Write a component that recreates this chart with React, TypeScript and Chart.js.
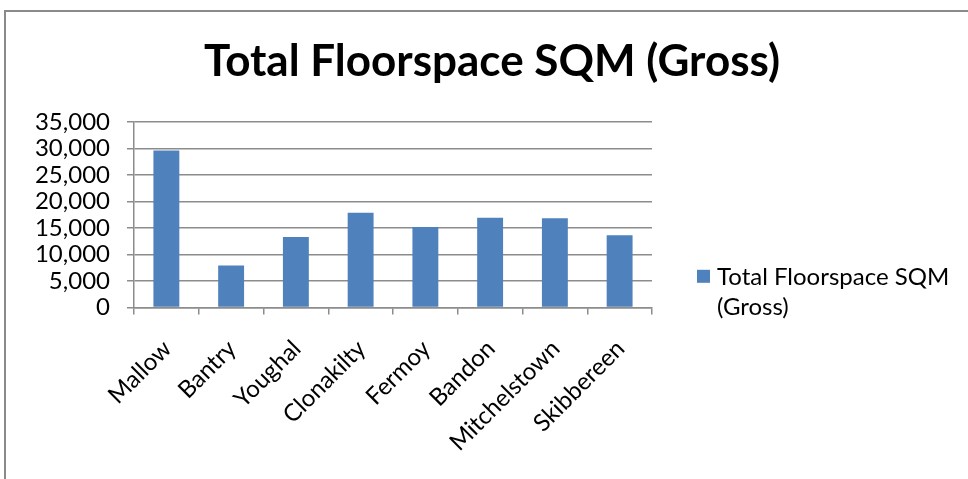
import React, { useEffect, useRef } from "react";
import { Chart, registerables } from "chart.js";

Chart.register(...registerables);

const categories = ["Mallow", "Bantry", "Youghal", "Clonakilty", "Fermoy", "Bandon", "Mitchelstown", "Skibbereen"];
const floorspace = [29600, 7900, 13300, 17850, 15150, 16900, 16800, 13600];
const seriesLabel = "Total Floorspace SQM (Gross)";
const legendLines = ["Total Floorspace SQM", "(Gross)"];
const chartTitle = "Total Floorspace SQM (Gross)";
const yMax = 35000;
const yStep = 5000;

const FONT = "Lato, 'Open Sans', sans-serif";
const BAR = "#4f81bd";
const GRID = "#8c8c8c";

const legendPlugin = {
  id: "sideLegend",
  afterDraw(chart: any) {
    const { ctx, chartArea } = chart;
    const ds = chart.data.datasets[0];
    const x = chartArea.right + 45;
    const y = chartArea.top + 155;
    ctx.save();
    ctx.fillStyle = ds.backgroundColor;
    ctx.fillRect(x, y - 7, 13, 13);
    ctx.fillStyle = "#000";
    ctx.font = `24px ${FONT}`;
    ctx.textBaseline = "middle";
    ctx.textAlign = "left";
    legendLines.forEach((line, i) => {
      ctx.fillText(line, x + 20, y + i * 30);
    });
    ctx.restore();
  },
};

export default function App() {
  const ref = useRef<HTMLCanvasElement | null>(null);
  useEffect(() => {
    if (!ref.current) return;
    const chart = new Chart(ref.current, {
      type: "bar",
      data: {
        labels: categories,
        datasets: [
          {
            label: seriesLabel,
            data: floorspace,
            backgroundColor: BAR,
            borderWidth: 0,
            barPercentage: 0.4,
            categoryPercentage: 1,
          },
        ],
      },
      options: {
        animation: false,
        responsive: false,
        maintainAspectRatio: false,
        layout: { padding: { left: 16, right: 0, top: 0, bottom: 0 } },
        plugins: {
          legend: { display: false },
          tooltip: { enabled: false },
          title: {
            display: true,
            text: chartTitle,
            color: "#000",
            font: { family: FONT, size: 44, weight: "bold" },
            padding: { top: 35, bottom: 34 },
          },
        },
        scales: {
          x: {
            offset: true,
            grid: { display: true, offset: true, drawOnChartArea: false, drawTicks: true, tickLength: 7, color: GRID, lineWidth: 1.5 },
            border: { display: true, color: GRID, width: 1.5 },
            ticks: { color: "#000", font: { family: FONT, size: 24 }, maxRotation: 45, minRotation: 45, padding: 20, labelOffset: 1, autoSkip: false },
            afterFit: (s: any) => { s.height = 171.5; },
          },
          y: {
            min: 0,
            max: yMax,
            ticks: {
              stepSize: yStep,
              autoSkip: false,
              color: "#000",
              font: { family: FONT, size: 24 },
              padding: 17,
              callback: (v: any) => Number(v).toLocaleString("en-US"),
            },
            grid: { color: GRID, lineWidth: 1.5, tickLength: 7, drawTicks: true },
            border: { display: true, color: GRID, width: 1.5 },
            afterFit: (s: any) => { s.width = 118; },
          },
          y2: {
            position: "right",
            display: true,
            ticks: { display: false },
            grid: { display: false, drawOnChartArea: false },
            border: { display: false },
            afterFit: (s: any) => { s.width = 316; },
          },
        },
      },
      plugins: [legendPlugin],
    });
    return () => chart.destroy();
  }, []);

  return (
    <div style={{ position: "absolute", left: 0, top: 0, width: 968, height: 479, background: "#fff", overflow: "hidden" }}>
      <div style={{ position: "absolute", left: 4, top: 10, width: 980, height: 480, borderTop: "2px solid #8a8a8a", borderLeft: "2px solid #8a8a8a", boxSizing: "border-box" }} />
      <canvas ref={ref} width={968} height={479} style={{ position: "absolute", left: 0, top: 0 }} />
    </div>
  );
}
